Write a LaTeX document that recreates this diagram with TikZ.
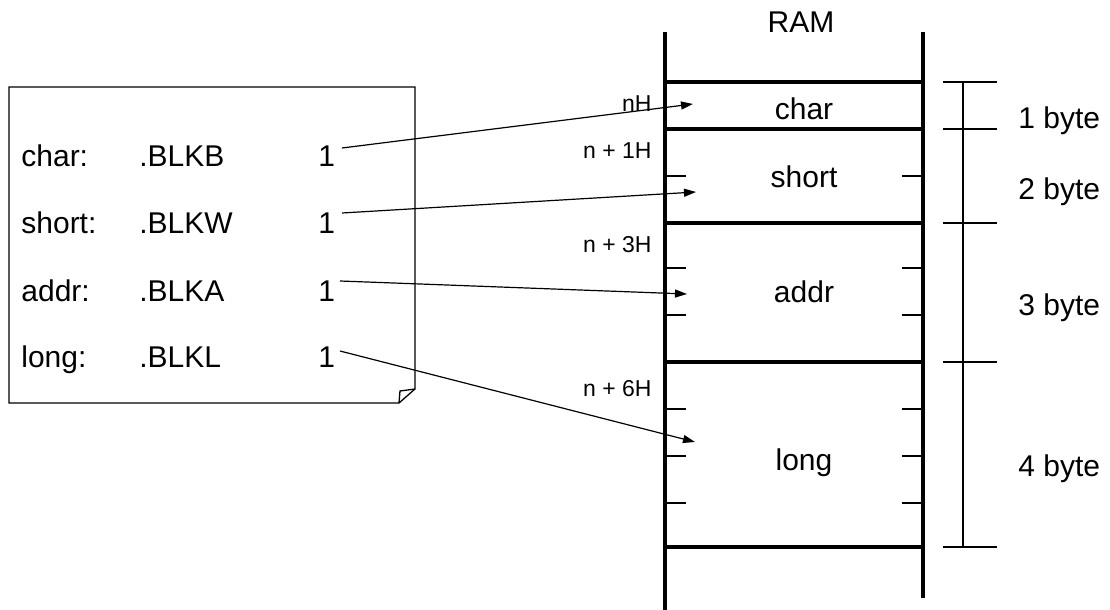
\documentclass[tikz,border=0pt]{standalone}
\usepackage{fontspec}
\setmainfont{Liberation Sans}
\usetikzlibrary{arrows.meta}
\begin{document}
\begin{tikzpicture}[x=0.5pt,y=-0.5pt,
  ramwall/.style={line width=2pt},
  ramrow/.style={line width=2pt},
  celltick/.style={line width=0.6pt},
  dimtick/.style={line width=1pt},
  dimline/.style={line width=0.55pt},
  lbl/.style={font=\fontsize{15}{18}\selectfont, inner sep=0pt},
  addrlbl/.style={font=\fontsize{11.5}{14}\selectfont, inner sep=0pt, anchor=base east},
  ptr/.style={line width=0.6pt, -{Triangle[length=6pt,width=4pt]}},
  notebox/.style={draw, line width=0.65pt}]
\useasboundingbox (0,0) rectangle (1110,610);

% RAM walls and rows
\draw[ramwall] (665,32) -- (665,610);
\draw[ramwall] (923,32) -- (923,598);
\foreach \y in {82,129,223,362,547}
  \draw[ramrow] (665,\y) -- (923,\y);
\node[lbl, anchor=base] (ram) at (801,33) {RAM};

% byte ticks inside cells
\foreach \y in {176,268,315,409,456,503}{
  \draw[celltick] (665,\y) -- (686,\y);
  \draw[celltick] (902,\y) -- (923,\y);
}

% cell labels
\node[lbl, anchor=base] (cchar)  at (804,120) {char};
\node[lbl, anchor=base] (cshort) at (804,188) {short};
\node[lbl, anchor=base] (caddr)  at (804,302) {addr};
\node[lbl, anchor=base] (clong)  at (804,470) {long};

% address labels
\node[addrlbl] (a0) at (652,112) {nH};
\node[addrlbl] (a1) at (652,159) {n + 1H};
\node[addrlbl] (a3) at (652,253) {n + 3H};
\node[addrlbl] (a6) at (652,396) {n + 6H};

% dimension line
\draw[dimline] (963,82) -- (963,547);
\foreach \y in {82,129,223,362,547}
  \draw[dimtick] (943,\y) -- (997,\y);
\node[lbl, anchor=base west] (b1) at (1018,129) {1 byte};
\node[lbl, anchor=base west] (b2) at (1018,200) {2 byte};
\node[lbl, anchor=base west] (b3) at (1018,315) {3 byte};
\node[lbl, anchor=base west] (b4) at (1018,476) {4 byte};

% note box
\draw[notebox] (9,87) -- (415,87) -- (415,389) -- (399,403) -- (9,403) -- cycle;
\draw[notebox] (399,403) -- (400,391) -- (415,389);

\node[lbl, anchor=base west] (n1) at (21,167) {char:};
\node[lbl, anchor=base west] (d1) at (139,167) {.BLKB};
\node[lbl, anchor=base west] (one1) at (318,167) {1};
\node[lbl, anchor=base west] (n2) at (21,234) {short:};
\node[lbl, anchor=base west] (d2) at (139,234) {.BLKW};
\node[lbl, anchor=base west] (one2) at (318,234) {1};
\node[lbl, anchor=base west] (n3) at (21,301) {addr:};
\node[lbl, anchor=base west] (d3) at (139,301) {.BLKA};
\node[lbl, anchor=base west] (one3) at (318,301) {1};
\node[lbl, anchor=base west] (n4) at (21,367) {long:};
\node[lbl, anchor=base west] (d4) at (139,367) {.BLKL};
\node[lbl, anchor=base west] (one4) at (318,367) {1};

% pointer arrows
\coordinate (s1) at (342,148); \coordinate (t1) at (693,104);
\coordinate (s2) at (342,213); \coordinate (t2) at (696,192);
\coordinate (s3) at (340,281); \coordinate (t3) at (687,294);
\coordinate (s4) at (340,351); \coordinate (t4) at (695,442);
\draw[ptr] (s1) -- (t1);
\draw[ptr] (s2) -- (t2);
\draw[ptr] (s3) -- (t3);
\draw[ptr] (s4) -- (t4);
\end{tikzpicture}
\end{document}
